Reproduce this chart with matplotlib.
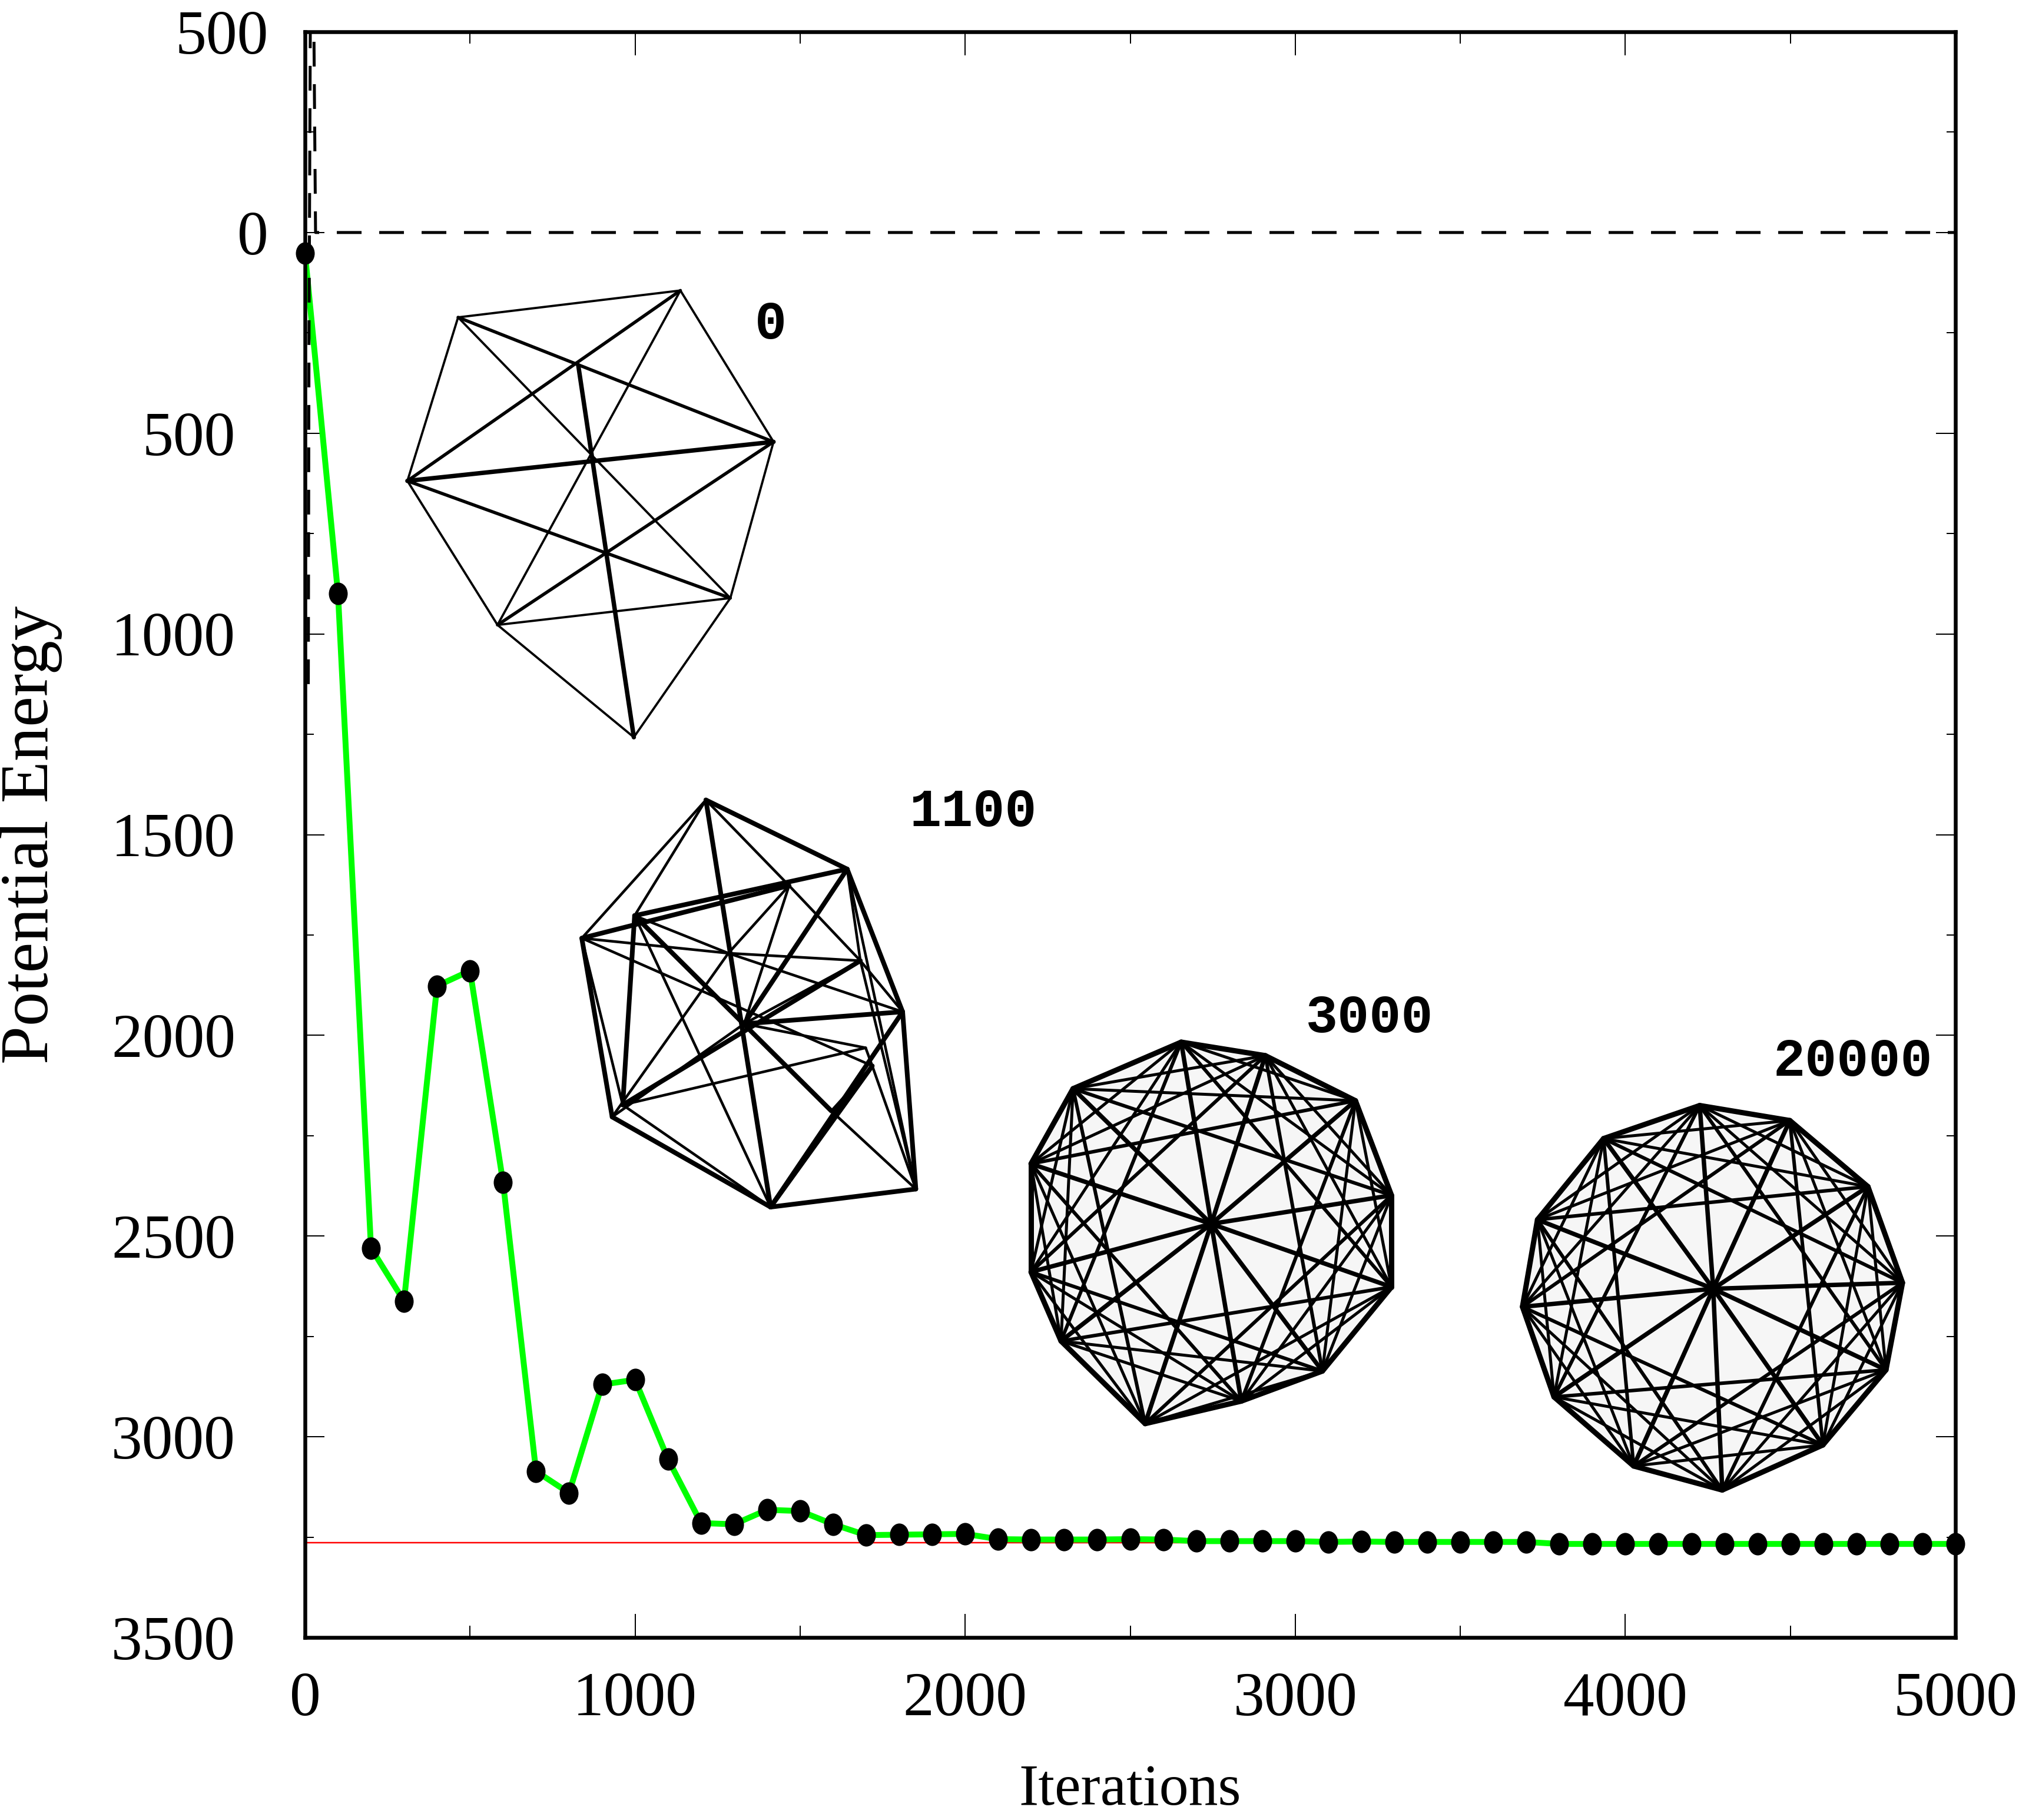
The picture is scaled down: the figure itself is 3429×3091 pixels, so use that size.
#!/usr/bin/env python3
"""Potential energy against iterations, with four wireframe snapshots."""

import matplotlib
matplotlib.use("Agg")
import matplotlib.pyplot as plt
import numpy as np
from matplotlib.collections import LineCollection
from matplotlib.markers import MarkerStyle
from matplotlib.ticker import MultipleLocator
from matplotlib.transforms import Affine2D

W, H = 3430, 3091
DPI = 100
PX = 72.0 / DPI

iterations = list(range(0, 5001, 100))
energy = [
    -51, -900, -2530, -2662, -1877, -1839, -2366, -3086, -3140, -2870,
    -2858, -3056, -3215, -3218, -3182, -3185, -3218, -3245, -3244, -3243,
    -3242, -3255, -3256, -3256, -3256, -3255, -3256, -3260, -3260, -3260,
    -3260, -3262, -3261, -3262, -3262, -3262, -3262, -3262, -3267, -3267,
    -3267, -3267, -3267, -3267, -3267, -3267, -3267, -3267, -3267, -3267,
    -3267,
]
minimum_energy = -3264
dashed_x = [10, 12, 16, 20, 24, 27, 32, 5000]
dashed_y = [-1125, -300, 500, 700, 700, 500, 0, 0]

y_ticks = [500, 0, -500, -1000, -1500, -2000, -2500, -3000, -3500]
y_tick_labels = ["500", "0", "500", "1000", "1500", "2000", "2500", "3000", "3500"]
x_ticks = [0, 1000, 2000, 3000, 4000, 5000]

frame0_pts = [(530, 650), (1122, 595), (1370, 905), (1255, 1225), (998, 1510),
              (635, 1280), (395, 985), (850, 748), (885, 945), (925, 1135)]
frame0_thin = [(0, 1), (1, 2), (2, 3), (3, 4), (4, 5), (5, 6), (6, 0), (0, 3),
               (1, 5), (5, 3)]
frame0_mid = [(0, 2), (6, 1), (6, 3), (5, 2)]
frame0_thick = [(6, 2), (7, 4)]

frame1100_pts = [(555, 115), (1090, 345), (1300, 820), (1350, 1410), (800, 1470),
                 (200, 1170), (85, 575), (285, 500), (870, 400), (640, 625),
                 (1160, 940), (1030, 1150), (1140, 650), (1185, 1000),
                 (700, 860), (240, 1130)]
frame1100_thin = [(0, 6), (0, 7), (0, 8), (6, 9), (9, 2), (5, 9), (15, 6), (7, 4),
                  (15, 10), (8, 12), (2, 12), (3, 11), (3, 13), (8, 14), (14, 10),
                  (3, 1), (1, 12), (13, 6), (15, 4), (3, 12), (7, 9), (9, 8),
                  (9, 12), (13, 10), (11, 13), (14, 12), (5, 14)]
frame1100_thick = [(0, 1), (0, 4), (6, 8), (7, 1), (7, 15), (6, 5), (7, 11),
                   (15, 12), (4, 2), (4, 13), (4, 3), (4, 5), (2, 3), (1, 2),
                   (1, 14), (14, 2)]

frame3000_pts = [(600, 235), (880, 280), (1180, 430), (1300, 745), (1300, 1050),
                 (1070, 1330), (800, 1430), (480, 1505), (200, 1230), (100, 1000),
                 (100, 640), (240, 390)]
frame3000_hub = (700, 840)

frame20000_pts = [(660, 250), (960, 300), (1220, 520), (1335, 840), (1280, 1130),
                  (1070, 1380), (735, 1530), (440, 1450), (175, 1220), (70, 920),
                  (120, 630), (340, 360)]
frame20000_hub = (705, 860)

labels_frames = ["0", "1100", "3000", "20000"]


def to_px(points, origin, sx, sy):
    pts = np.asarray(points, dtype=float)
    return np.column_stack((origin[0] + pts[:, 0] / sx, origin[1] + pts[:, 1] / sy))


def draw_edges(ax, pts, edges, width):
    segs = [(pts[a], pts[b]) for a, b in edges]
    ax.add_collection(LineCollection(segs, colors="black", linewidths=width * PX,
                                     capstyle="round"))


def draw_ball(ax, outer, hub, origin):
    pts = to_px(outer, origin, 1.96, 1.96)
    centre = to_px([hub], origin, 1.96, 1.96)[0]
    ax.fill(pts[:, 0], pts[:, 1], color="#f6f6f6", lw=0)
    n = len(pts)
    for skip, width in ((1, 9), (2, 5), (3, 5), (4, 6)):
        draw_edges(ax, pts, [(i, (i + skip) % n) for i in range(n)], width)
    segs = [(centre, p) for p in pts]
    ax.add_collection(LineCollection(segs, colors="black", linewidths=7.5 * PX,
                                     capstyle="round"))


plt.rcParams["font.family"] = ["Liberation Serif", "DejaVu Serif"]

fig = plt.figure(figsize=(W / DPI, H / DPI), dpi=DPI)
ax = fig.add_axes([518 / W, 1 - 2781 / H, 2803 / W, 2727 / H])

ax.plot([0, 5000], [minimum_energy, minimum_energy], color="#ff0000", lw=2.5 * PX, zorder=2)
ax.plot(iterations, energy, color="#00ff00", lw=10 * PX, zorder=3, solid_joinstyle="round")
ax.plot(dashed_x, dashed_y, color="black", lw=5 * PX, zorder=4, dashes=(42 / 5, 30 / 5))
ellipse = MarkerStyle("o", transform=Affine2D().scale(1, 37 / 31))
ax.plot(iterations, energy, ls="none", marker=ellipse, ms=32 * PX, mfc="black", mec="black",
        mew=0, zorder=5, clip_on=False)

ax.set_xlim(0, 5000)
ax.set_ylim(-3500, 500)
ax.set_xticks(x_ticks)
ax.xaxis.set_minor_locator(MultipleLocator(500))
ax.set_yticks(y_ticks)
ax.set_yticklabels(y_tick_labels)
ax.yaxis.set_minor_locator(MultipleLocator(250))
ax.tick_params(axis="x", which="major", direction="in", top=True, length=40 * PX, width=2 * PX,
               labelsize=76, pad=42)
ax.tick_params(axis="x", which="minor", direction="in", top=True, length=20 * PX, width=2 * PX)
ax.tick_params(axis="y", which="major", direction="in", right=True, length=33 * PX, width=2 * PX,
               labelsize=76)
ax.tick_params(axis="y", which="minor", direction="in", right=True, length=15 * PX, width=2 * PX)
for i, tick in enumerate(ax.yaxis.get_major_ticks()):
    # the top two labels sit closer to the axis in the original
    tick.set_pad(62 * PX if i < 2 else 118 * PX)
for spine in ax.spines.values():
    spine.set_linewidth(6.5 * PX)
    spine.set_zorder(6)

ax.set_xlabel("Iterations", fontsize=72)
ax.xaxis.set_label_coords(0.5, -0.0787)
ax.set_ylabel("Potential Energy", fontsize=84)
ax.yaxis.set_label_coords(-0.147, 0.5)

# overlay in picture pixels for the snapshots
over = fig.add_axes([0, 0, 1, 1])
over.set_xlim(0, W)
over.set_ylim(H, 0)
over.axis("off")
over.patch.set_alpha(0)

pts0 = to_px(frame0_pts, (440, 0), 1.568, 1.206)
draw_edges(over, pts0, frame0_thin, 3.8)
draw_edges(over, pts0, frame0_mid, 5.5)
draw_edges(over, pts0, frame0_thick, 7.5)

pts1100 = to_px(frame1100_pts, (950, 1300), 2.23, 1.96)
draw_edges(over, pts1100, frame1100_thin, 4.5)
draw_edges(over, pts1100, frame1100_thick, 8)

draw_ball(over, frame3000_pts, frame3000_hub, (1700, 1650))
draw_ball(over, frame20000_pts, frame20000_hub, (2550, 1750))

label_xy = [(1309, 552), (1653, 1380), (2326, 1730), (3147, 1804)]
for text, (lx, ly) in zip(labels_frames, label_xy):
    over.text(lx, ly, text, family="Liberation Mono", weight="bold", fontsize=65,
              ha="center", va="center")

fig.savefig("out.png", dpi=DPI)
